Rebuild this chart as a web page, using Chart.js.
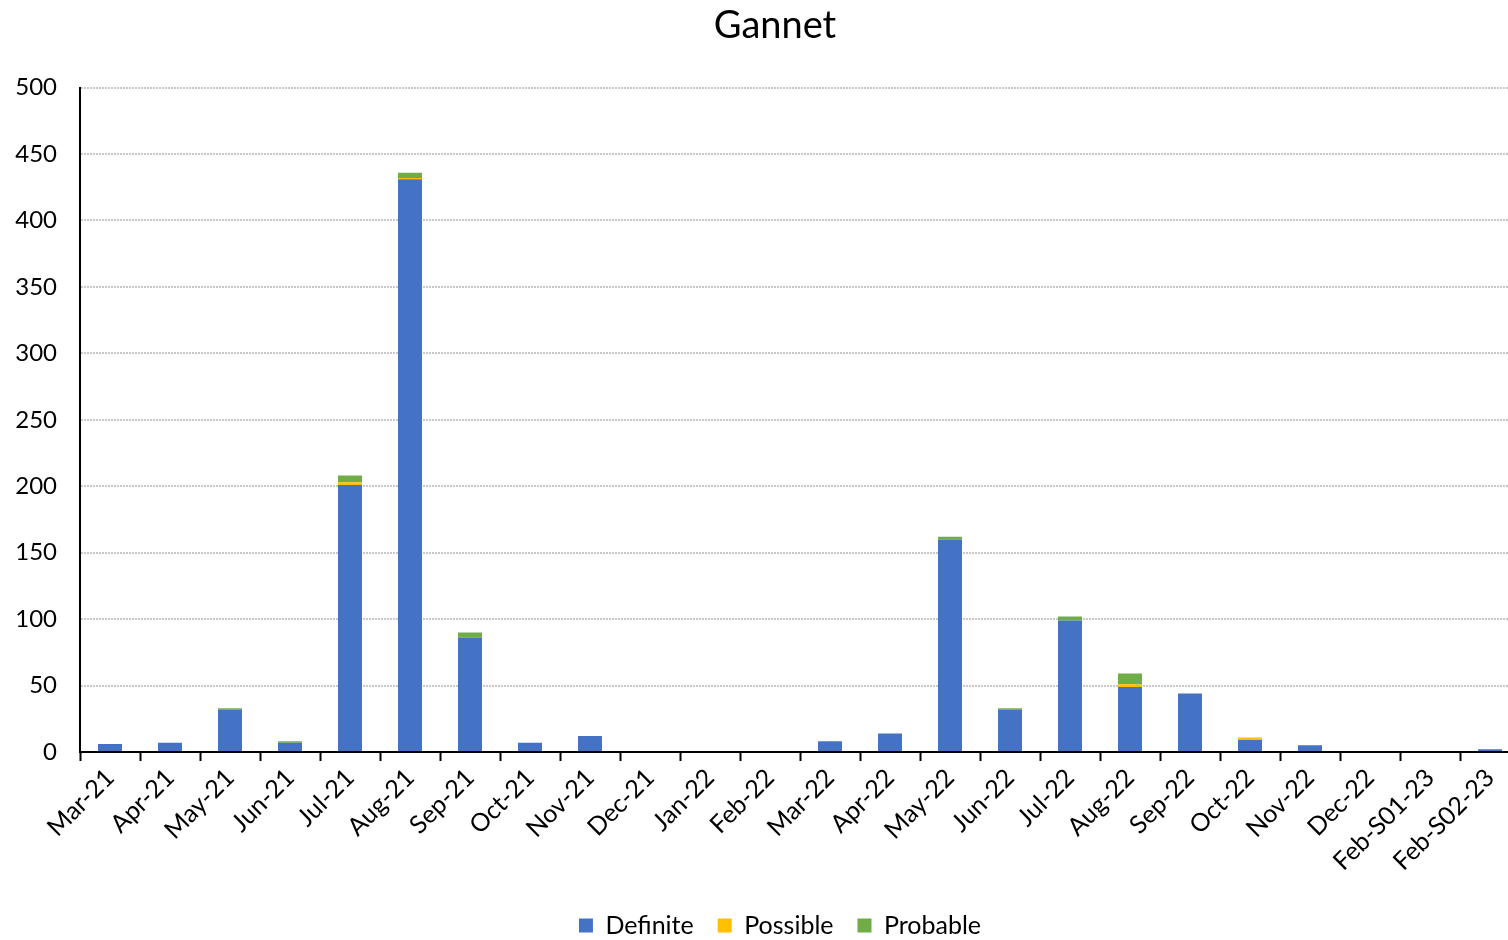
<!DOCTYPE html>
<html>
<head>
<meta charset="utf-8">
<title>Gannet</title>
<script src="https://cdn.jsdelivr.net/npm/chart.js@4.4.1/dist/chart.umd.min.js"></script>
<style>
  html, body { margin: 0; padding: 0; background: #fff; overflow: hidden; }
  #chart { display: block; }
</style>
</head>
<body>
<canvas id="chart" width="1560" height="948"></canvas>
<script>
// Monthly Gannet records by identification confidence
const months = ['Mar-21','Apr-21','May-21','Jun-21','Jul-21','Aug-21','Sep-21','Oct-21','Nov-21','Dec-21',
                'Jan-22','Feb-22','Mar-22','Apr-22','May-22','Jun-22','Jul-22','Aug-22','Sep-22','Oct-22',
                'Nov-22','Dec-22','Feb-S01-23','Feb-S02-23'];
const definite = [6, 7, 32, 7, 201, 431, 86, 7, 12, 0, 0, 0, 8, 14, 160, 32, 99, 49, 44, 9, 5, 0, 0, 2];
const possible = [0, 0, 0, 0, 2, 1, 0, 0, 0, 0, 0, 0, 0, 0, 0, 0, 0, 2, 0, 2, 0, 0, 0, 0];
const probable = [0, 0, 1, 1, 5, 4, 4, 0, 0, 0, 0, 0, 0, 0, 2, 1, 3, 8, 0, 0, 0, 0, 0, 0];
const yTicks = [0, 50, 100, 150, 200, 250, 300, 350, 400, 450, 500];

const FONT = 'Lato, "Open Sans", sans-serif';

// Title and legend are centred over the whole canvas, not only the padded layout box
const widenHeaderFooter = {
  id: 'widenHeaderFooter',
  afterLayout(chart) {
    if (chart.titleBlock) { chart.titleBlock.left = 0; chart.titleBlock.right = 1550; }
    if (chart.legend) {
      chart.legend.left = 0;
      chart.legend.right = chart.width;
      chart.legend.adjustHitBoxes();
    }
  }
};

new Chart(document.getElementById('chart'), {
  type: 'bar',
  data: {
    labels: months,
    datasets: [
      { label: 'Definite', data: definite, backgroundColor: '#4472C4' },
      { label: 'Possible', data: possible, backgroundColor: '#FFC000' },
      { label: 'Probable', data: probable, backgroundColor: '#70AD47' }
    ]
  },
  options: {
    responsive: false,
    maintainAspectRatio: false,
    animation: false,
    devicePixelRatio: 1,
    layout: { padding: { left: 0, right: 40, top: 0, bottom: 0 } },
    datasets: { bar: { barPercentage: 0.4, categoryPercentage: 1.0 } },
    plugins: {
      title: {
        display: true,
        text: 'Gannet',
        color: '#000',
        font: { family: FONT, size: 38, weight: 'normal', lineHeight: 1.2 },
        padding: { top: 3, bottom: 39 }
      },
      legend: {
        position: 'bottom',
        labels: {
          color: '#000',
          font: { family: FONT, size: 25 },
          boxWidth: 14,
          boxHeight: 14,
          padding: 24
        }
      },
      tooltip: { enabled: false }
    },
    scales: {
      x: {
        stacked: true,
        border: { display: true, color: '#000', width: 2 },
        grid: {
          display: true,
          offset: true,
          drawOnChartArea: false,
          drawTicks: true,
          tickLength: 9,
          tickColor: '#000',
          tickWidth: 2
        },
        ticks: {
          color: '#000',
          font: { family: FONT, size: 25 },
          minRotation: 45,
          maxRotation: 45,
          autoSkip: false,
          padding: 2
        },
        afterFit: (scale) => { scale.height = 137; }
      },
      y: {
        stacked: true,
        min: 0,
        max: 500,
        afterBuildTicks: (scale) => { scale.ticks = yTicks.map(v => ({ value: v })); },
        border: { display: true, color: '#000', width: 2, dash: [2, 1] },
        grid: {
          color: '#c8c8c8',
          lineWidth: 2,
          drawTicks: false
        },
        ticks: {
          color: '#000',
          font: { family: FONT, size: 24 },
          padding: 23
        },
        afterFit: (scale) => { scale.width = 80; }
      }
    }
  },
  plugins: [widenHeaderFooter]
});
</script>
</body>
</html>
